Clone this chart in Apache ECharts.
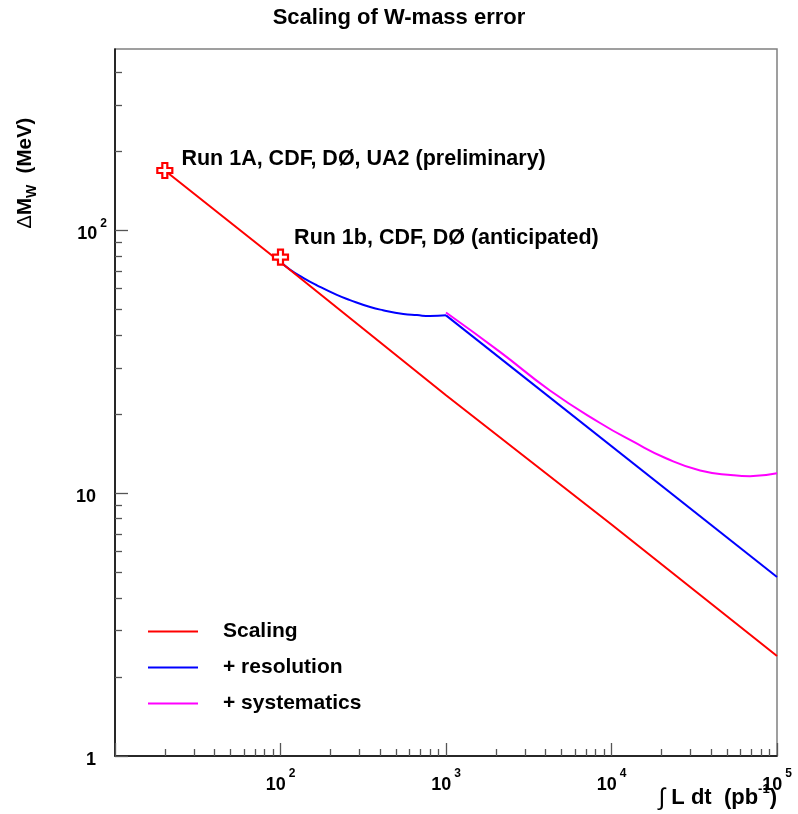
<!DOCTYPE html>
<html><head><meta charset="utf-8">
<script src="https://cdn.jsdelivr.net/npm/echarts@6/dist/echarts.min.js"></script>
<style>html,body{margin:0;padding:0;background:#fff}#c{width:798px;height:814px}</style>
</head><body><div id="c"></div>
<script>
// ---- data ----
const scalingX = [20, 100, 1000, 10000, 100000];
const scalingY = [169, 75.6, 23.6, 7.6, 2.4];

const resolutionCurveX = [100, 114, 137, 166, 219, 263, 348, 416, 552, 668, 800, 1000];
const resolutionCurveY = [76, 71, 66, 61.8, 56.8, 54.3, 51.1, 49.7, 48.1, 47.6, 47.2, 47.5];
const resolutionTailX = [1000, 100000];
const resolutionTailY = [47.5, 4.8];

const systematicsX = [1000, 2118, 4247, 8531, 13550, 21500, 34300, 54500, 68700, 100000];
const systematicsY = [48.7, 34.5, 24.6, 18.5, 15.7, 13.55, 12.2, 11.7, 11.6, 11.9];

const markerX = [20, 100];
const markerY = [169, 79.1];
const markerText = ['Run 1A, CDF, D\u00d8, UA2 (preliminary)', 'Run 1b, CDF, D\u00d8 (anticipated)'];

const xMajorTicks = [10, 100, 1000, 10000, 100000];
const yMajorTicks = [1, 10, 100];
const mantissas = [2, 3, 4, 5, 6, 7, 8, 9];
const xDecades = [10, 100, 1000, 10000];
const yDecades = [1, 10, 100];
const seriesNames = ['Scaling', '+ resolution', '+ systematics'];
const titleText = 'Scaling of W-mass error';

// ---- build ----
const zip = (xs, ys) => xs.map((x, i) => [x, ys[i]]);
const xMinor = [];
xDecades.forEach(d => mantissas.forEach(m => xMinor.push(d * m)));
const yMinor = [];
yDecades.forEach(d => mantissas.forEach(m => { if (d * m < 490) yMinor.push(d * m); }));

const FONT = '"Liberation Sans", Arial, Helvetica, sans-serif';
const tickColor = '#555';

const chart = echarts.init(document.getElementById('c'), null, {renderer: 'canvas'});

const supRich = {
  b: {fontSize: 18, fontWeight: 'bold', fontFamily: FONT, color: '#000', lineHeight: 26, verticalAlign: 'bottom'},
  s: {fontSize: 12, fontWeight: 'bold', fontFamily: FONT, color: '#000', verticalAlign: 'top', padding: [0, 0, 0, 3]},
  g: {fontSize: 12, width: 11}
};

const option = {
  animation: false,
  backgroundColor: '#fff',
  title: {
    text: titleText, left: 'center', top: 2,
    textStyle: {fontSize: 22, fontWeight: 'bold', fontFamily: FONT, color: '#000'}
  },
  grid: {left: 115, right: 21, top: 49, bottom: 58, show: true, borderColor: '#808080', borderWidth: 1.5, backgroundColor: 'transparent'},
  legend: {
    data: seriesNames, orient: 'vertical', left: 148, top: 621, padding: 0,
    icon: 'rect', itemWidth: 50, itemHeight: 2, itemGap: 15,
    textStyle: {fontSize: 21, fontWeight: 'bold', fontFamily: FONT, color: '#000', lineHeight: 20, padding: [0, 0, 0, 20]},
    selectedMode: false
  },
  xAxis: [{
    type: 'log', logBase: 10, min: 10, max: 100000,
    axisLine: {lineStyle: {color: '#000', width: 1.5}},
    axisTick: {inside: true, length: 13, lineStyle: {color: tickColor, width: 1.3}, customValues: xMajorTicks},
    splitLine: {show: false},
    axisLabel: {
      margin: 12, customValues: xMajorTicks.slice(1),
      formatter: v => '{b|10}{s|' + Math.round(Math.log10(v)) + '}',
      rich: supRich
    }
  }, {
    type: 'log', logBase: 10, min: 10, max: 100000, position: 'bottom',
    axisLine: {show: false},
    axisTick: {inside: true, length: 7, lineStyle: {color: tickColor, width: 1.3}, customValues: xMinor},
    axisLabel: {show: false}, splitLine: {show: false}
  }],
  yAxis: [{
    type: 'log', logBase: 10, min: 1, max: 490,
    axisLine: {lineStyle: {color: '#000', width: 1.5}},
    axisTick: {inside: true, length: 13, lineStyle: {color: tickColor, width: 1.3}, customValues: yMajorTicks},
    splitLine: {show: false},
    axisLabel: {
      margin: 8, customValues: yMajorTicks,
      formatter: v => v >= 100 ? '{b|10}{s|' + Math.round(Math.log10(v)) + '}' : '{b|' + v + '}{g| }',
      rich: supRich
    }
  }, {
    type: 'log', logBase: 10, min: 1, max: 490, position: 'left',
    axisLine: {show: false},
    axisTick: {inside: true, length: 7, lineStyle: {color: tickColor, width: 1.3}, customValues: yMinor},
    axisLabel: {show: false}, splitLine: {show: false}
  }],
  graphic: [
    {
      type: 'text', x: 25, y: 173, rotation: Math.PI / 2,
      style: {
        text: '{d|\u0394}{a|M}{w|W}{a|  (MeV)}',
        align: 'center', verticalAlign: 'middle',
        rich: {
          d: {fontSize: 20, fontFamily: FONT, color: '#000', lineHeight: 28, verticalAlign: 'middle'},
          a: {fontSize: 20.5, fontWeight: 'bold', fontFamily: FONT, color: '#000', lineHeight: 28, verticalAlign: 'middle'},
          w: {fontSize: 14, fontWeight: 'bold', fontFamily: FONT, color: '#000', verticalAlign: 'bottom'}
        }
      }
    },
    {
      type: 'text', x: 777, y: 798,
      style: {
        text: '{i|\u222b}{a| L dt  (pb}{s|-1}{a|)}',
        align: 'right', verticalAlign: 'middle',
        rich: {
          i: {fontSize: 24, fontFamily: FONT, color: '#000', lineHeight: 30, verticalAlign: 'middle'},
          a: {fontSize: 22, fontWeight: 'bold', fontFamily: FONT, color: '#000', lineHeight: 30, verticalAlign: 'middle'},
          s: {fontSize: 13, fontWeight: 'bold', fontFamily: FONT, color: '#000', verticalAlign: 'top'}
        }
      }
    }
  ],
  series: [
    {
      name: seriesNames[0], type: 'line', data: zip(scalingX, scalingY),
      symbol: 'none', lineStyle: {color: '#ff0000', width: 2}, itemStyle: {color: '#ff0000'}, z: 3
    },
    {
      name: seriesNames[1], type: 'line', data: zip(resolutionCurveX, resolutionCurveY), smooth: 0.5,
      symbol: 'none', lineStyle: {color: '#0000ff', width: 2}, itemStyle: {color: '#0000ff'}, z: 2
    },
    {
      name: seriesNames[1], type: 'line', data: zip(resolutionTailX, resolutionTailY),
      symbol: 'none', lineStyle: {color: '#0000ff', width: 2}, itemStyle: {color: '#0000ff'}, z: 2
    },
    {
      name: seriesNames[2], type: 'line', data: zip(systematicsX, systematicsY), smooth: 0.5,
      symbol: 'none', lineStyle: {color: '#ff00ff', width: 2}, itemStyle: {color: '#ff00ff'}, z: 2
    },
    {
      name: 'markers', type: 'scatter', z: 5,
      symbol: 'path://M4,0H8V4H12V8H8V12H4V8H0V4H4Z', symbolSize: 15,
      itemStyle: {color: '#ffffff', borderColor: '#ff0000', borderWidth: 2.2, opacity: 1},
      label: {
        show: true, position: 'right', distance: 5, formatter: p => p.name,
        fontSize: 21.5, fontWeight: 'bold', fontFamily: FONT, color: '#000000', opacity: 1
      },
      data: markerX.map((x, i) => ({
        value: [x, markerY[i]], name: markerText[i],
        label: {offset: i === 0 ? [3, -11] : [0, -19], color: '#000000'}
      }))
    }
  ]
};
chart.setOption(option);
</script>
</body></html>
